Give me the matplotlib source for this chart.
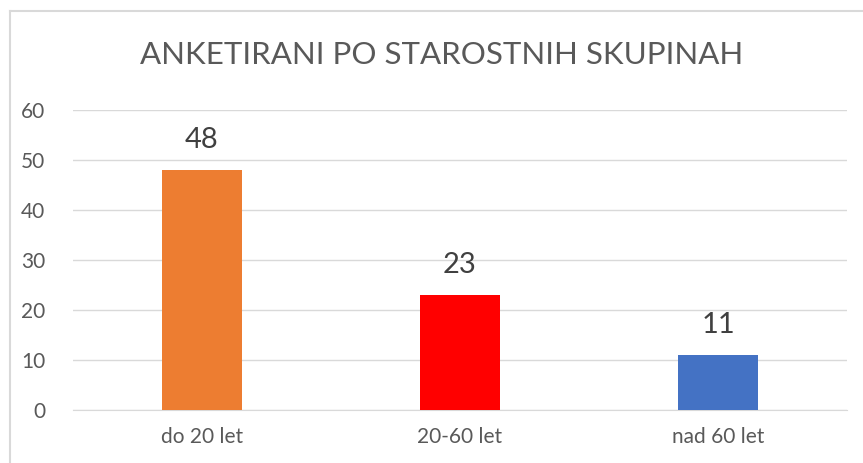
import matplotlib
matplotlib.use("Agg")
import matplotlib.pyplot as plt
from matplotlib.lines import Line2D

categories = ["do 20 let", "20-60 let", "nad 60 let"]
values = [48, 23, 11]
colors = ["#ED7D31", "#FF0000", "#4472C4"]
title = "ANKETIRANI PO STAROSTNIH SKUPINAH"
yticks = [0, 10, 20, 30, 40, 50, 60]

plt.rcParams['font.family'] = ['Lato', 'DejaVu Sans']

W, H = 863, 463
fig = plt.figure(figsize=(W / 100, H / 100), dpi=100)
# partial chart border (left and top), as in the reference crop
fig.add_artist(Line2D([9.5 / W, 9.5 / W], [0, 1 - 11 / H], transform=fig.transFigure,
                      color="#D9D9D9", linewidth=1.5))
fig.add_artist(Line2D([9.5 / W, 1], [1 - 11 / H, 1 - 11 / H], transform=fig.transFigure,
                      color="#D9D9D9", linewidth=1.5))

ax = fig.add_axes([73 / W, 53 / H, 774 / W, 300 / H])
x = list(range(len(categories)))
ax.bar(x, values, width=0.31, color=colors, zorder=3)
for xi, v in zip(x, values):
    ax.text(xi, v + 6.0, str(v), ha="center", va="center", fontsize=21, color="#404040")
ax.set_xlim(-0.5, len(categories) - 0.5)
ax.set_ylim(0, 60)
ax.set_yticks(yticks)
ax.set_xticks(x)
ax.set_xticklabels(categories)
ax.grid(axis="y", color="#D9D9D9", linewidth=1, zorder=0)
for s in ["top", "right", "left"]:
    ax.spines[s].set_visible(False)
ax.spines["bottom"].set_color("#D9D9D9")
ax.tick_params(axis="both", length=0, labelsize=15, colors="#595959")
ax.tick_params(axis="x", pad=12)
ax.tick_params(axis="y", pad=20)
fig.text(442 / W, 1 - 55 / H, title, ha="center", va="center", fontsize=22.5,
         color="#595959")
fig.savefig("out.png", dpi=100)
